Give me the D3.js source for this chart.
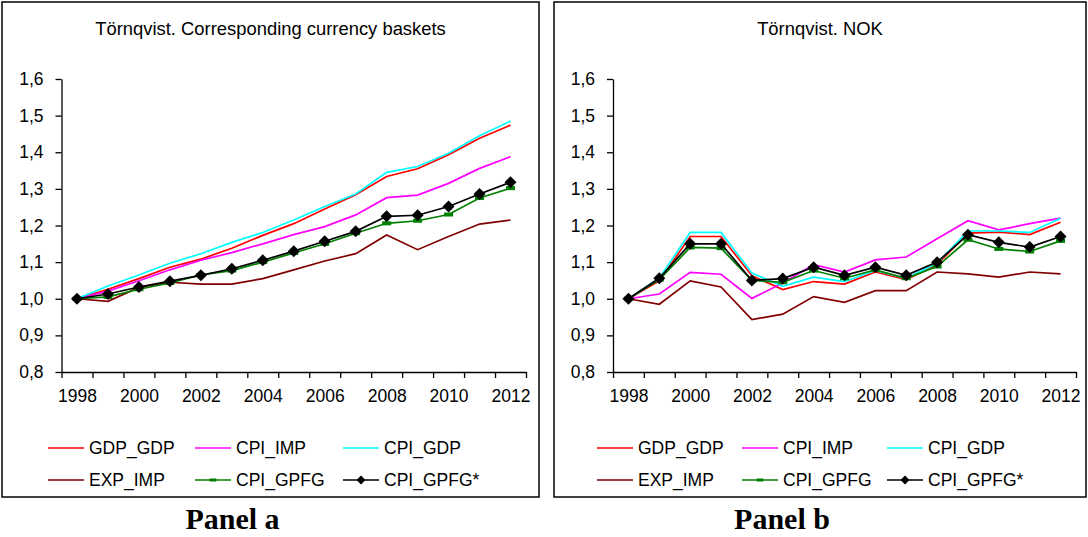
<!DOCTYPE html>
<html>
<head>
<meta charset="utf-8">
<script src="https://cdn.jsdelivr.net/npm/d3@7"></script>
<style>
  html, body { margin: 0; padding: 0; background: #fff; }
  svg { display: block; }
  .axis text { font-family: "Liberation Sans", Arial, sans-serif; font-size: 17.5px; fill: #000; }
  .axis path, .axis line { stroke: #000; stroke-width: 1.3px; }
</style>
</head>
<body>
<svg id="chart" width="1088" height="537"></svg>
<script>
// Years on the horizontal axis
const years = d3.range(1998, 2013);
const yearLabels = [1998, 2000, 2002, 2004, 2006, 2008, 2010, 2012];
const yTicks = [0.8, 0.9, 1.0, 1.1, 1.2, 1.3, 1.4, 1.5, 1.6];

// Panel a: Törnqvist index, corresponding currency baskets (1998 = 1)
const a_GDP_GDP   = [1.000, 1.026, 1.055, 1.086, 1.108, 1.138, 1.173, 1.205, 1.245, 1.284, 1.334, 1.355, 1.393, 1.438, 1.474];
const a_CPI_IMP   = [1.000, 1.021, 1.049, 1.079, 1.105, 1.126, 1.150, 1.175, 1.197, 1.229, 1.276, 1.283, 1.315, 1.356, 1.388];
const a_CPI_GDP   = [1.000, 1.035, 1.065, 1.097, 1.123, 1.154, 1.181, 1.215, 1.252, 1.286, 1.345, 1.361, 1.397, 1.445, 1.485];
const a_EXP_IMP   = [1.000, 0.993, 1.031, 1.045, 1.040, 1.040, 1.055, 1.079, 1.103, 1.123, 1.174, 1.134, 1.170, 1.204, 1.215];
const a_CPI_GPFG  = [1.000, 1.005, 1.026, 1.043, 1.065, 1.077, 1.100, 1.125, 1.150, 1.179, 1.206, 1.213, 1.230, 1.275, 1.302];
const a_CPI_GPFGs = [1.000, 1.013, 1.032, 1.048, 1.064, 1.082, 1.105, 1.130, 1.157, 1.184, 1.225, 1.228, 1.252, 1.286, 1.318];

// Panel b: Törnqvist index, NOK (1998 = 1)
const b_GDP_GDP   = [1.000, 1.049, 1.170, 1.170, 1.063, 1.025, 1.047, 1.040, 1.073, 1.052, 1.093, 1.179, 1.182, 1.175, 1.209];
const b_CPI_IMP   = [1.000, 1.013, 1.072, 1.067, 1.001, 1.043, 1.093, 1.073, 1.106, 1.114, 1.164, 1.213, 1.188, 1.205, 1.220];
const b_CPI_GDP   = [1.000, 1.056, 1.181, 1.181, 1.070, 1.034, 1.059, 1.047, 1.077, 1.056, 1.097, 1.185, 1.185, 1.181, 1.220];
const b_EXP_IMP   = [1.000, 0.985, 1.049, 1.032, 0.943, 0.958, 1.006, 0.990, 1.022, 1.022, 1.073, 1.068, 1.059, 1.073, 1.068];
const b_CPI_GPFG  = [1.000, 1.052, 1.140, 1.138, 1.050, 1.045, 1.077, 1.056, 1.079, 1.056, 1.088, 1.161, 1.136, 1.129, 1.158];
const b_CPI_GPFGs = [1.000, 1.056, 1.150, 1.150, 1.050, 1.055, 1.086, 1.064, 1.086, 1.064, 1.100, 1.175, 1.154, 1.141, 1.170];

const seriesNames  = ["GDP_GDP", "CPI_IMP", "CPI_GDP", "EXP_IMP", "CPI_GPFG", "CPI_GPFG*"];
const seriesColors = ["#ff0000", "#ff00ff", "#00ffff", "#800000", "#008000", "#000000"];
const seriesMarks  = ["none", "none", "none", "none", "bar", "diamond"];

const panels = [
  { title: "Törnqvist. Corresponding currency baskets", caption: "Panel a",
    values: [a_GDP_GDP, a_CPI_IMP, a_CPI_GDP, a_EXP_IMP, a_CPI_GPFG, a_CPI_GPFGs],
    box: [2, 2, 539, 497], plot: [61.5, 526], legendX: [48, 195, 343] },
  { title: "Törnqvist. NOK", caption: "Panel b",
    values: [b_GDP_GDP, b_CPI_IMP, b_CPI_GDP, b_EXP_IMP, b_CPI_GPFG, b_CPI_GPFGs],
    box: [554, 2, 1086, 497], plot: [613, 1076], legendX: [597, 742, 887] }
];

const svg = d3.select("#chart");
const fmt = d => d3.format(".1f")(d).replace(".", ",");
const plotTop = 79, plotBottom = 372;

// Point markers: short green bars and black diamonds; scale s shrinks them for the legend
function drawMarker(g, kind, cx, cy, color, s = 1) {
  if (kind === "bar") {
    g.append("rect").attr("x", cx - 4.5 * s).attr("y", cy - 2 * s).attr("width", 9 * s).attr("height", 4 * s)
      .attr("fill", color);
  } else if (kind === "diamond") {
    const r = 6 * s;
    g.append("path").attr("d", `M${cx},${cy - r}L${cx + r},${cy}L${cx},${cy + r}L${cx - r},${cy}Z`)
      .attr("fill", color);
  }
}

panels.forEach(p => {
  const g = svg.append("g");
  const [bx0, by0, bx1, by1] = p.box;

  g.append("rect").attr("x", bx0).attr("y", by0).attr("width", bx1 - bx0).attr("height", by1 - by0)
    .attr("fill", "#fff").attr("stroke", "#000").attr("stroke-width", 1.5);

  g.append("text").attr("x", (bx0 + bx1) / 2).attr("y", 35).attr("text-anchor", "middle")
    .attr("font-family", "Liberation Sans, Arial, sans-serif").attr("font-size", 18.4)
    .text(p.title);

  const x = d3.scaleLinear().domain([1997.5, 2012.5]).range(p.plot);
  const y = d3.scaleLinear().domain([0.8, 1.6]).range([plotBottom, plotTop]);

  // Y axis
  g.append("g").attr("class", "axis").attr("transform", `translate(${p.plot[0]},0)`)
    .call(d3.axisLeft(y).tickValues(yTicks).tickFormat(fmt).tickSize(6).tickPadding(12).tickSizeOuter(0));

  // X axis: ticks between years, labels on every other year
  const boundaries = d3.range(1997.5, 2013, 1);
  g.append("g").attr("class", "axis").attr("transform", `translate(0,${plotBottom})`)
    .call(d3.axisBottom(x).tickValues(boundaries).tickFormat("").tickSize(6).tickSizeOuter(0));
  const xl = g.append("g").attr("class", "axis").attr("transform", `translate(0,${plotBottom})`)
    .call(d3.axisBottom(x).tickValues(yearLabels).tickFormat(d3.format("d")).tickSize(0).tickPadding(18));
  xl.select(".domain").remove();

  // Series lines
  const line = d3.line().x((d, i) => x(years[i])).y(d => y(d));
  p.values.forEach((vals, k) => {
    g.append("path").datum(vals).attr("d", line).attr("fill", "none")
      .attr("stroke", seriesColors[k]).attr("stroke-width", 1.7).attr("stroke-linejoin", "miter");
    vals.forEach((v, i) => drawMarker(g, seriesMarks[k], x(years[i]), y(v), seriesColors[k]));
  });

  // Legend: two rows of three entries
  const rowsY = [448, 480];
  seriesNames.forEach((name, k) => {
    const lx = p.legendX[k % 3], ly = rowsY[Math.floor(k / 3)];
    g.append("line").attr("x1", lx).attr("x2", lx + 36).attr("y1", ly).attr("y2", ly)
      .attr("stroke", seriesColors[k]).attr("stroke-width", 1.7);
    drawMarker(g, seriesMarks[k], lx + 18, ly, seriesColors[k], 0.75);
    g.append("text").attr("x", lx + 41).attr("y", ly + 6)
      .attr("font-family", "Liberation Sans, Arial, sans-serif").attr("font-size", 17.5)
      .text(name);
  });

  svg.append("text").attr("x", (bx0 + bx1) / 2 - 38).attr("y", 529).attr("text-anchor", "middle")
    .attr("font-family", "Liberation Serif, Times New Roman, serif").attr("font-weight", "bold")
    .attr("font-size", 30).text(p.caption);
});
</script>
</body>
</html>
